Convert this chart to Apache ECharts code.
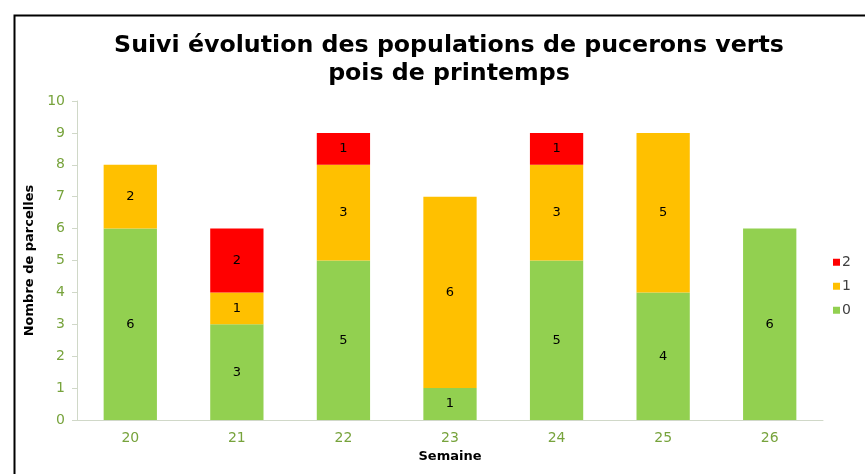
<!DOCTYPE html>
<html><head><meta charset="utf-8">
<script src="https://cdn.jsdelivr.net/npm/echarts@6/dist/echarts.min.js"></script>
<style>html,body{margin:0;padding:0;background:#fff}#c{width:865px;height:474px}</style>
</head><body><div id="c"></div>
<script>
const categories = ['20','21','22','23','24','25','26'];
const level0 = [6,3,5,1,5,4,6];
const level1 = [2,1,3,6,3,5,0];
const level2 = [0,2,1,0,1,0,0];
const seriesNames = ['0','1','2'];
const colors = ['#92D050','#FFC000','#FF0000'];

const chart = echarts.init(document.getElementById('c'));
const font = 'DejaVu Sans';
function mk(name, data, color){
  return {
    name, type:'bar', stack:'s', data: data.map(v=>v===0?null:v), barWidth:'50%',
    itemStyle:{color},
    label:{show:true, position:'inside', color:'#000', fontFamily:font, fontSize:13}
  };
}
chart.setOption({
  animation:false,
  textStyle:{fontFamily:font},
  graphic:[{type:'rect', shape:{x:14.5,y:15.5,width:900,height:500}, style:{fill:'none', stroke:'#000', lineWidth:2}}],
  title:{text:'Suivi évolution des populations de pucerons verts\npois de printemps', left:444, textAlign:'center', top:27,
    textStyle:{fontFamily:font, fontSize:23.7, fontWeight:'bold', color:'#000', lineHeight:28}},
  legend:{data:['2','1','0'], orient:'vertical', left:828, top:249, itemWidth:7, itemHeight:7, itemGap:7.5, icon:'rect',
    textStyle:{fontFamily:font, fontSize:14, color:'#404040', padding:[0,0,0,-3], lineHeight:16.5}, itemStyle:{borderWidth:0}},
  grid:{left:77, right:42, top:101, bottom:54, containLabel:false},
  xAxis:{type:'category', data:categories, name:'Semaine', nameLocation:'middle', nameGap:30,
    nameTextStyle:{fontFamily:font, fontSize:13, fontWeight:'bold', color:'#000'},
    axisLine:{lineStyle:{color:'#D0D8C8'}}, axisTick:{show:false},
    axisLabel:{color:'#77A33C', fontFamily:font, fontSize:14, margin:11}},
  yAxis:{type:'value', min:0, max:10, interval:1, name:'Nombre de parcelles', nameLocation:'middle', nameGap:41,
    nameTextStyle:{fontFamily:font, fontSize:13, fontWeight:'bold', color:'#000'},
    axisLine:{show:true, lineStyle:{color:'#D0D8C8'}}, axisTick:{show:true, length:5, lineStyle:{color:'#D0D8C8'}},
    splitLine:{show:false},
    axisLabel:{color:'#77A33C', fontFamily:font, fontSize:14, margin:12}},
  series:[mk('0',level0,colors[0]), mk('1',level1,colors[1]), mk('2',level2,colors[2])]
});
</script></body></html>
